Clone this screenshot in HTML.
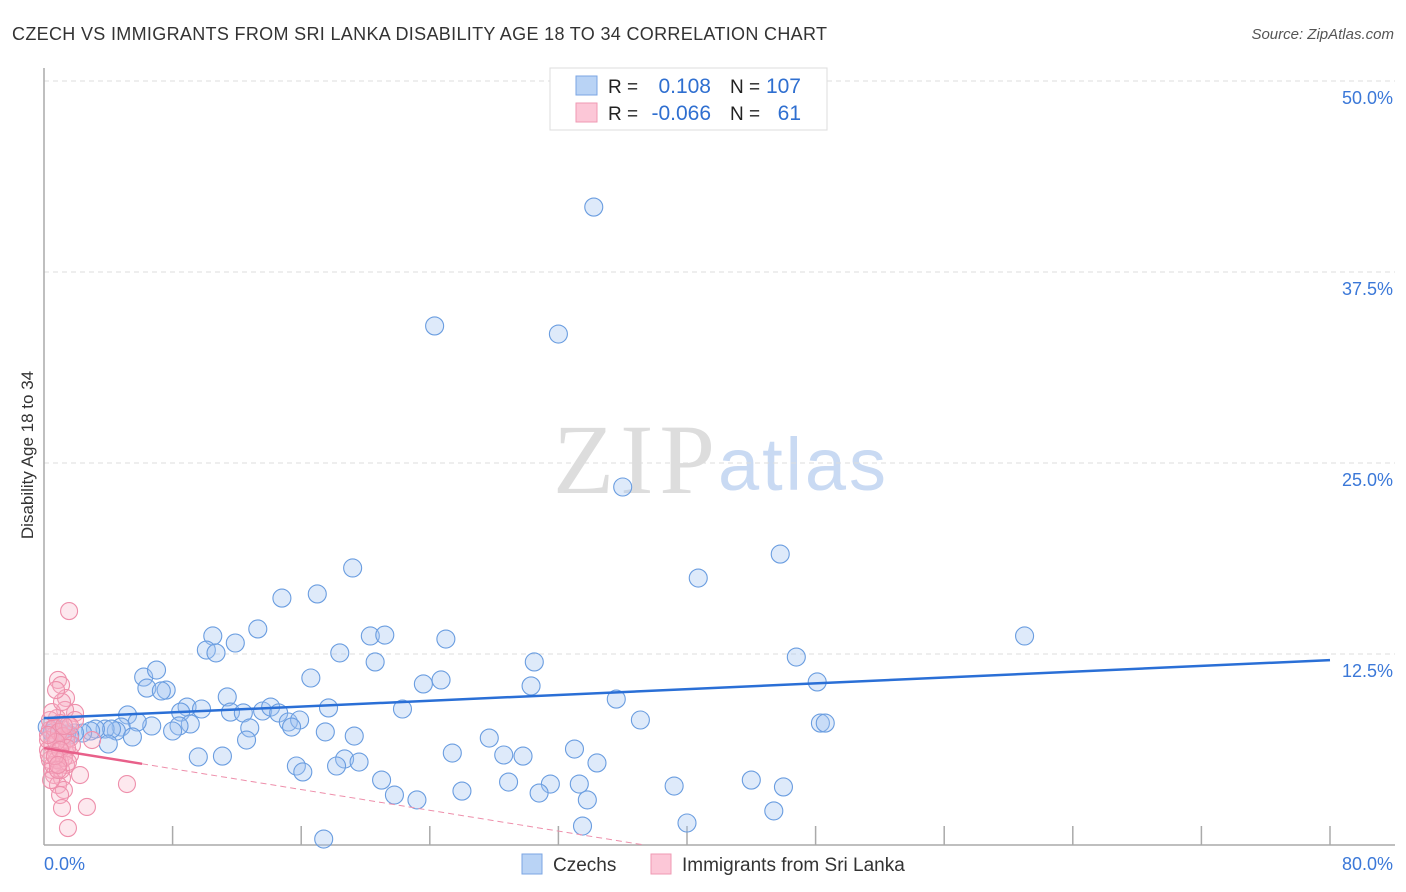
<!DOCTYPE html>
<html><head><meta charset="utf-8"><style>
body{margin:0;background:#fff;font-family:"Liberation Sans",sans-serif}
svg{display:block}
</style></head><body>
<svg id="chart" width="1406" height="892">
<text x="12" y="40" font-size="18" fill="#333" textLength="815">CZECH VS IMMIGRANTS FROM SRI LANKA DISABILITY AGE 18 TO 34 CORRELATION CHART</text>
<text x="1394" y="39" font-size="15" fill="#555" font-style="italic" text-anchor="end">Source: ZipAtlas.com</text>
<g>
<text x="553" y="493" font-family="Liberation Serif,serif" font-size="100" fill="#ddd" textLength="162">ZIP</text>
<text x="718" y="490" font-size="74" fill="#c9daf3" textLength="168">atlas</text>
</g>
<g id="grid"></g>
<g id="axes"></g>
<g id="pts"></g>
<g id="lines"></g>
<text transform="translate(33,455) rotate(-90)" font-size="17" fill="#333" text-anchor="middle">Disability Age 18 to 34</text>
<g>
<rect x="550" y="68" width="277" height="62" fill="#fff" stroke="#ddd"/>
<rect x="576" y="76" width="21" height="19" fill="#b9d3f5" stroke="#7ba6e3"/>
<rect x="576" y="103" width="21" height="19" fill="#fcc7d7" stroke="#ef9ab3"/>
<text x="608" y="93" font-size="19" fill="#222">R =</text>
<text x="711" y="93" font-size="21" fill="#2f6fd0" text-anchor="end">0.108</text>
<text x="730" y="93" font-size="19" fill="#222">N =</text>
<text x="801" y="93" font-size="21" fill="#2f6fd0" text-anchor="end">107</text>
<text x="608" y="120" font-size="19" fill="#222">R =</text>
<text x="711" y="120" font-size="21" fill="#2f6fd0" text-anchor="end">-0.066</text>
<text x="730" y="120" font-size="19" fill="#222">N =</text>
<text x="801" y="120" font-size="21" fill="#2f6fd0" text-anchor="end">61</text>
</g>
<g>
<rect x="522" y="854" width="20" height="20" fill="#b9d3f5" stroke="#7ba6e3"/>
<text x="553" y="871" font-size="19" fill="#333">Czechs</text>
<rect x="651" y="854" width="20" height="20" fill="#fcc7d7" stroke="#ef9ab3"/>
<text x="682" y="871" font-size="19" fill="#333">Immigrants from Sri Lanka</text>
</g>
</svg>
<script>
const yTicks=[12.5,25,37.5,50];
const yTickLabels=["12.5%","25.0%","37.5%","50.0%"];
const xTickLabels=["0.0%","80.0%"];
const czechX=[34.2,24.3,32.0,36.0,45.8,40.7,19.2,17.0,14.8,61.0,10.5,11.9,13.3,20.3,21.2,25.0,18.4,10.1,10.7,20.6,30.5,46.8,6.2,7.0,6.4,7.6,7.3,16.6,23.6,24.7,30.3,48.1,11.4,8.9,9.8,35.6,11.6,12.4,13.6,14.1,14.6,17.7,22.3,8.5,5.2,15.2,15.9,15.4,12.8,9.1,8.4,8.0,6.7,5.8,4.8,4.5,3.8,4.2,3.2,2.9,2.4,1.9,1.4,1.0,0.7,37.1,48.3,48.6,17.5,19.3,5.5,4.0,12.6,27.7,9.6,11.1,25.4,28.6,29.8,33.0,18.7,19.6,15.7,18.2,16.1,34.4,21.0,28.9,31.5,33.3,39.2,44.0,46.0,26.0,21.8,30.8,23.2,33.8,45.4,40.0,33.5,17.4,1.6,1.2,0.2,0.5];
const czechY=[41.75,33.97,33.44,23.43,19.04,17.47,18.13,16.43,16.16,13.68,13.68,13.22,14.14,13.68,13.74,13.48,12.57,12.76,12.57,11.98,11.98,12.30,10.99,11.45,10.27,10.14,10.08,10.93,10.54,10.80,10.41,10.67,9.69,9.03,8.90,9.55,8.70,8.64,8.77,9.03,8.64,8.97,8.90,8.70,8.51,8.05,8.18,7.72,7.66,7.92,7.79,7.46,7.79,8.05,7.72,7.46,7.59,7.59,7.59,7.46,7.33,7.33,7.26,7.33,7.66,8.18,7.98,7.98,7.40,7.13,7.07,6.61,6.87,7.00,5.76,5.82,6.02,5.89,5.82,6.28,5.63,5.43,5.17,5.17,4.78,5.37,4.25,4.12,3.99,3.99,3.86,4.25,3.80,3.53,3.27,3.40,2.95,2.95,2.23,1.44,1.24,0.39,7.20,7.53,7.72,7.33];
const slX=[1.56,0.87,1.06,1.37,1.93,1.31,0.81,1.0,1.49,0.37,0.68,0.87,0.5,1.12,0.25,0.75,1.31,1.62,0.37,1.0,1.37,0.5,2.24,0.62,1.12,0.87,1.24,5.16,1.0,2.67,1.12,1.49,1.93,1.62,0.25,0.56,0.81,1.06,1.37,1.74,0.37,0.62,0.93,1.18,1.43,0.3,0.75,1.0,1.24,1.49,0.44,0.87,2.99,0.5,1.12,0.75,1.62,0.25,0.68,1.24,0.87];
const slY=[15.31,10.8,10.47,9.62,8.64,8.84,8.31,7.98,7.85,7.53,7.2,6.87,6.54,6.54,6.22,6.09,6.09,5.89,5.56,5.43,5.24,4.91,4.58,4.58,4.38,3.93,3.6,3.99,3.27,2.49,2.42,1.11,8.18,7.0,6.87,5.24,5.56,4.91,6.87,6.54,8.18,7.66,7.4,7.13,6.35,5.89,6.74,6.22,5.69,5.43,4.25,4.91,6.87,8.7,9.36,10.14,7.79,7.2,5.82,7.79,5.24];
const czechTrend=[8.3,12.1];
const slTrend=[6.35,-0.17];
const X=v=>44+v*16.075, Y=v=>845-v*15.28;
const NS="http://www.w3.org/2000/svg";
function mk(tag,attrs,parent){const e=document.createElementNS(NS,tag);for(const k in attrs)e.setAttribute(k,attrs[k]);parent.appendChild(e);return e;}
const grid=document.getElementById('grid'),axes=document.getElementById('axes'),pts=document.getElementById('pts'),lines=document.getElementById('lines');
yTicks.forEach((t,i)=>{
 const l=mk('line',{x1:44,x2:1395,y1:Y(t),y2:Y(t),stroke:'#ddd','stroke-dasharray':'5,4'},grid);
 
 
 const tx=mk('text',{x:1393,y:Y(t)+23,'font-size':18,fill:'#3b78d8','text-anchor':'end'},grid);
 tx.textContent=yTickLabels[i];
 
 
});
let a=mk('line',{x1:44,x2:44,y1:68,y2:845,stroke:'#aaa','stroke-width':1.5},axes);


a=mk('line',{x1:44,x2:1395,y1:845,y2:845,stroke:'#aaa','stroke-width':1.5},axes);


for(let v=8;v<=80;v+=8){const t=mk('line',{x1:X(v),x2:X(v),y1:826,y2:845,stroke:'#aaa','stroke-width':1.5},axes);
 
 }
[[0,'start',X(0)],[1,'end',1393]].forEach(([i,anc,x])=>{const t=mk('text',{x:x,y:870,'font-size':18,fill:'#3b78d8','text-anchor':anc},axes);t.textContent=xTickLabels[i];
 
 });
czechX.forEach((v,i)=>{const c=mk('circle',{cx:X(v),cy:Y(czechY[i]),r:9,fill:'rgba(160,196,240,0.35)',stroke:'#6a9de0','stroke-width':1.1},pts);
 
 });
slX.forEach((v,i)=>{const c=mk('circle',{cx:X(v),cy:Y(slY[i]),r:8.5,fill:'rgba(248,180,200,0.3)',stroke:'#ee8fab','stroke-width':1.1},pts);
 
 });
let l=mk('line',{x1:X(0),y1:Y(czechTrend[0]),x2:X(80),y2:Y(czechTrend[1]),stroke:'#2a6fd6','stroke-width':2.5},lines);


const sl=v=>slTrend[0]+slTrend[1]*v;
l=mk('line',{x1:X(0),y1:Y(sl(0)),x2:X(6.1),y2:Y(sl(6.1)),stroke:'#e8608a','stroke-width':2.5},lines);


const z=-slTrend[0]/slTrend[1];
l=mk('line',{x1:X(6.1),y1:Y(sl(6.1)),x2:X(z),y2:Y(0),stroke:'#ee8fab','stroke-width':1,'stroke-dasharray':'6,4'},lines);


</script>
</body></html>
